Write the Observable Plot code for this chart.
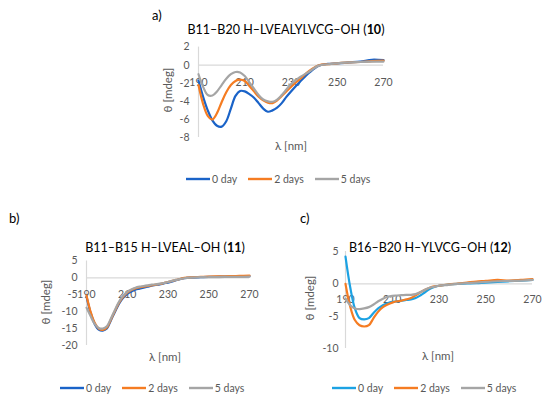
<!DOCTYPE html>
<html>
<head>
<meta charset="utf-8">
<script src="https://cdn.jsdelivr.net/npm/d3@7"></script>
<script src="https://cdn.jsdelivr.net/npm/@observablehq/plot@0.6"></script>
<style>
  html, body { margin: 0; padding: 0; background: #fff; }
  #root { position: relative; width: 550px; height: 404px; overflow: hidden; background: #fff; font-family: Lato, "Open Sans", sans-serif; }
  .abs { position: absolute; z-index: 2; }
  .title { position: absolute; width: 300px; text-align: center; font-size: 12.5px; color: #000; line-height: 16px; white-space: nowrap; z-index: 1; }
  .plabel { position: absolute; font-size: 13px; color: #000; line-height: 16px; z-index: 1; }
  .ytitle { position: absolute; font-size: 11.5px; line-height: 14px; color: #595959; white-space: nowrap; transform: translate(-50%, -50%) rotate(-90deg); z-index: 1; }
  .xtitle { position: absolute; font-size: 11.5px; line-height: 14px; color: #595959; white-space: nowrap; transform: translate(-50%, -50%); z-index: 1; }
  .legend { position: absolute; display: flex; align-items: center; font-size: 10.5px; color: #595959; transform: translateY(-50%); white-space: nowrap; z-index: 1; }
  .legend .item { display: flex; align-items: center; margin-right: 11px; }
  .legend svg { margin-right: 2px; }
</style>
</head>
<body>
<div id="root"></div>
<script>
// wavelengths (nm)
const wavelengths = [190,192,194,196,198,200,202,204,206,208,210,212,214,216,218,220,222,224,226,228,230,234,238,242,246,250,255,260,265,270];
const seriesNames = ["0 day", "2 days", "5 days"];
const xTicks = [190, 210, 230, 250, 270];

// Panel a) B11–B20 H–LVEALYLVCG–OH (10)
const a_day0 = [-1.7,-3.5,-5.0,-6.1,-6.7,-6.8,-6.2,-4.8,-3.4,-2.85,-2.9,-3.2,-3.6,-4.2,-4.8,-5.15,-5.0,-4.7,-4.2,-3.5,-2.9,-1.8,-0.8,-0.05,0.15,0.2,0.3,0.4,0.6,0.55];
const a_day2 = [-2.2,-4.3,-5.6,-6.0,-5.3,-4.1,-3.0,-2.2,-1.75,-1.6,-1.75,-2.3,-2.9,-3.5,-3.9,-4.15,-4.2,-3.9,-3.4,-2.9,-2.4,-1.5,-0.6,0.0,0.1,0.2,0.3,0.35,0.45,0.5];
const a_day5 = [-1.0,-2.4,-3.3,-3.35,-2.9,-2.2,-1.5,-1.0,-0.75,-0.8,-1.2,-1.9,-2.6,-3.3,-3.8,-4.0,-4.05,-3.8,-3.3,-2.7,-2.1,-1.3,-0.7,-0.05,0.1,0.2,0.3,0.35,0.4,0.4];
const a_yTicks = [-8, -6, -4, -2, 0, 2];

// Panel b) B11–B15 H–LVEAL–OH (11)
const b_day0 = [-5.5,-10.3,-13.6,-15.3,-15.6,-15.0,-12.5,-10.0,-7.6,-5.9,-4.7,-4.0,-3.5,-3.2,-2.9,-2.6,-2.3,-2.1,-1.9,-1.6,-1.4,-0.7,-0.1,0.1,0.2,0.3,0.35,0.4,0.45,0.5];
const b_day2 = [-5.2,-10.0,-13.3,-15.0,-15.4,-14.7,-12.3,-9.7,-7.3,-5.6,-4.4,-3.6,-3.1,-2.8,-2.6,-2.4,-2.2,-2.0,-1.8,-1.5,-1.2,-0.6,0.0,0.2,0.3,0.4,0.45,0.5,0.6,0.7];
const b_day5 = [-8.8,-11.3,-13.6,-14.8,-15.0,-14.3,-12.0,-9.4,-7.0,-5.3,-4.1,-3.4,-2.9,-2.6,-2.4,-2.2,-2.0,-1.9,-1.7,-1.5,-1.2,-0.6,-0.1,0.1,0.2,0.2,0.25,0.3,0.3,0.35];
const b_yTicks = [-20, -15, -10, -5, 0, 5];

// Panel c) B16–B20 H–YLVCG–OH (12)
const c_day0 = [4.2,-0.5,-3.8,-5.3,-5.5,-5.3,-4.5,-3.8,-3.3,-3.0,-2.8,-2.7,-2.6,-2.5,-2.4,-2.2,-1.8,-1.3,-0.8,-0.5,-0.3,-0.1,0.0,0.05,0.1,0.2,0.3,0.4,0.5,0.6];
const c_day2 = [0.0,-3.5,-5.6,-6.4,-6.6,-6.4,-5.3,-4.3,-3.6,-3.2,-2.9,-2.7,-2.6,-2.4,-2.2,-1.8,-1.3,-0.9,-0.6,-0.4,-0.3,-0.1,0.05,0.2,0.35,0.45,0.6,0.5,0.6,0.75];
const c_day5 = [-2.3,-3.3,-3.8,-3.9,-3.8,-3.6,-3.2,-2.7,-2.3,-2.0,-1.85,-1.8,-1.75,-1.7,-1.7,-1.6,-1.3,-0.9,-0.6,-0.45,-0.3,-0.15,0.0,0.1,0.2,0.3,0.4,0.45,0.5,0.6];
const c_yTicks = [-10, -5, 0, 5];

const colorsAB = ["#1a63c8", "#f57c22", "#a5a5a5"];
const colorsC  = ["#1ca2e3", "#f57c22", "#a5a5a5"];

function table(s0, s2, s5) {
  const cols = [s0, s2, s5];
  const rows = [];
  cols.forEach((col, k) => wavelengths.forEach((w, i) => rows.push({w, v: col[i], s: seriesNames[k]})));
  return rows;
}

const root = document.getElementById("root");

function addText(cls, text, x, y, html) {
  const d = document.createElement("div");
  d.className = cls;
  if (html) d.innerHTML = html; else d.textContent = text;
  d.style.left = x + "px";
  d.style.top = y + "px";
  root.appendChild(d);
}

function legend(x, y, colors) {
  const d = document.createElement("div");
  d.className = "legend";
  d.style.left = x + "px";
  d.style.top = y + "px";
  seriesNames.forEach((n, i) => {
    const it = document.createElement("div");
    it.className = "item";
    it.innerHTML = `<svg width="24" height="4"><line x1="0" y1="2" x2="24" y2="2" stroke="${colors[i]}" stroke-width="2.4"/></svg><span>${n}</span>`;
    d.appendChild(it);
  });
  root.appendChild(d);
}

addText("plabel", "a)", 152, 7);
addText("plabel", "b)", 9, 210);
addText("plabel", "c)", 300, 210);

addText("title", "", 286 - 150, 22, "B11–B20 H–LVEALYLVCG–OH (<b>10</b>)");
addText("title", "", 165 - 150, 240, "B11–B15 H–LVEAL–OH (<b>11</b>)");
addText("title", "", 430 - 150, 240, "B16–B20 H–YLVCG–OH (<b>12</b>)");

addText("ytitle", "θ [mdeg]", 168, 90);
addText("ytitle", "θ [mdeg]", 46, 302);
addText("ytitle", "θ [mdeg]", 310, 298);
addText("xtitle", "λ [nm]", 291, 146);
addText("xtitle", "λ [nm]", 165, 357);
addText("xtitle", "λ [nm]", 438, 356);

legend(186, 179, colorsAB);
legend(60, 388, colorsAB);
legend(332, 388, colorsC);

function panel(cfg) {
  const svg = Plot.plot({
    width: cfg.width, height: cfg.height,
    marginLeft: cfg.ml, marginRight: cfg.mr, marginTop: cfg.mt, marginBottom: cfg.mb,
    style: {fontFamily: "Lato, 'Open Sans', sans-serif", fontSize: "10.5px", color: "#595959", background: "transparent", overflow: "visible"},
    x: {domain: [190, 270], axis: null},
    y: {domain: cfg.ydomain, axis: null},
    color: {domain: seriesNames, range: cfg.colors},
    marks: [
      Plot.ruleY([0], {stroke: "#d9d9d9", strokeWidth: 1.2}),
      Plot.ruleX([190], {stroke: "#d9d9d9", strokeWidth: 1.2}),
      Plot.text(cfg.yticks, {x: 190, y: d => d, dx: -cfg.pad, text: d => String(d), textAnchor: "end", fill: "#595959", fontSize: 10.5}),
      Plot.text(xTicks, {x: d => d, y: 0, dy: cfg.dy, text: d => String(d), fill: "#595959", fontSize: 10.5}),
      Plot.line(cfg.data, {x: "w", y: "v", z: "s", stroke: "s", strokeWidth: 2.2, curve: "catmull-rom"})
    ]
  });
  const wrap = document.createElement("div");
  wrap.className = "abs";
  wrap.style.left = cfg.left + "px";
  wrap.style.top = cfg.top + "px";
  wrap.style.width = cfg.width + "px";
  wrap.style.height = cfg.height + "px";
  wrap.appendChild(svg);
  root.appendChild(wrap);
}

panel({left: 150, top: 40, width: 250, height: 110, ml: 48, mr: 17, mt: 6.6, mb: 13, pad: 9,
  ydomain: [-8, 2], yticks: a_yTicks, dy: 17, colors: colorsAB, data: table(a_day0, a_day2, a_day5)});
panel({left: 0, top: 250, width: 270, height: 110, ml: 86, mr: 21, mt: 10.5, mb: 15, pad: 9,
  ydomain: [-20, 5], yticks: b_yTicks, dy: 17, colors: colorsAB, data: table(b_day0, b_day2, b_day5)});
panel({left: 280, top: 240, width: 270, height: 120, ml: 65, mr: 18, mt: 11, mb: 12, pad: 7,
  ydomain: [-10, 5], yticks: c_yTicks, dy: 16, colors: colorsC, data: table(c_day0, c_day2, c_day5)});
</script>
</body>
</html>
